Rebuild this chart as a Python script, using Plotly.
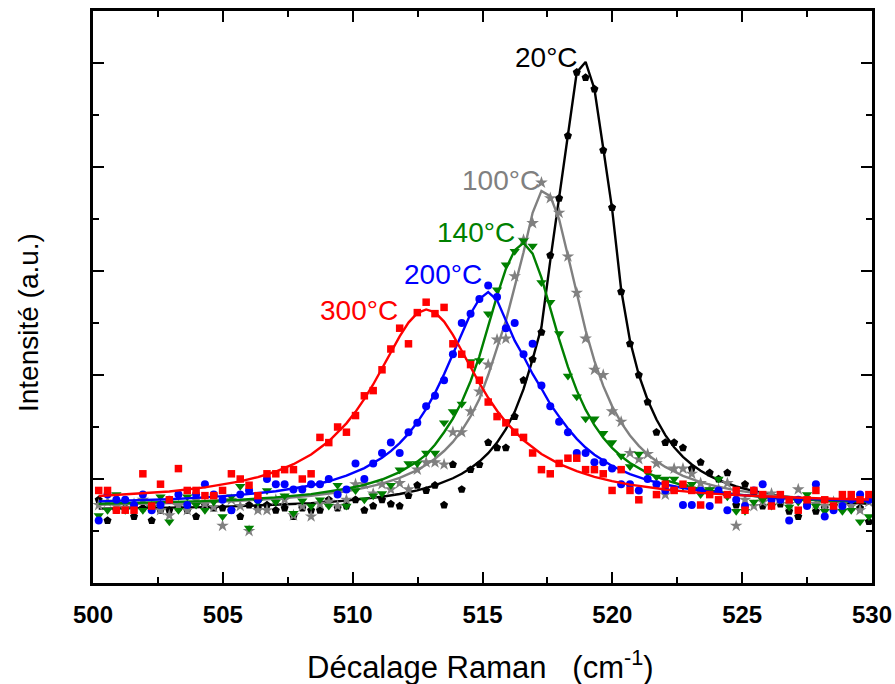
import plotly.graph_objects as go

# ---------------- data ----------------
raman_shift = [500.22, 500.56, 500.90, 501.24, 501.58, 501.92, 502.26, 502.60, 502.94, 503.29,
               503.63, 503.97, 504.31, 504.65, 504.99, 505.33, 505.67, 506.01, 506.35, 506.70,
               507.04, 507.38, 507.72, 508.06, 508.40, 508.74, 509.08, 509.42, 509.76, 510.11,
               510.45, 510.79, 511.13, 511.47, 511.81, 512.15, 512.49, 512.83, 513.17, 513.52,
               513.86, 514.20, 514.54, 514.88, 515.22, 515.56, 515.90, 516.24, 516.58, 516.93,
               517.27, 517.61, 517.95, 518.29, 518.63, 518.97, 519.31, 519.65, 519.99, 520.34,
               520.68, 521.02, 521.36, 521.70, 522.04, 522.38, 522.72, 523.06, 523.40, 523.75,
               524.09, 524.43, 524.77, 525.11, 525.45, 525.79, 526.13, 526.47, 526.81, 527.16,
               527.50, 527.84, 528.18, 528.52, 528.86, 529.20, 529.54, 529.88]

data_20C = [0.80, 0.60, 0.70, 0.72, 0.64, 0.72, 0.60, 0.70, 0.70, 0.72,
            0.70, 0.64, 0.75, 0.72, 0.72, 0.70, 0.64, 0.75, 0.72, 0.75,
            0.70, 0.72, 0.64, 0.72, 0.70, 0.70, 0.80, 0.72, 0.74, 0.80,
            0.70, 0.74, 0.80, 0.76, 0.74, 0.84, 0.94, 0.89, 0.94, 0.75,
            1.14, 0.90, 1.09, 1.14, 1.35, 1.30, 1.30, 1.60, 1.95, 2.15,
            2.41, 3.15, 3.70, 4.30, 4.91, 4.86, 4.75, 4.16, 3.61, 2.80,
            2.30, 2.00, 1.74, 1.45, 1.35, 1.35, 1.30, 1.10, 1.16, 1.06,
            1.00, 1.06, 0.75, 0.95, 0.86, 0.74, 0.80, 0.76, 0.69, 0.64,
            0.75, 0.69, 0.72, 0.74, 0.80, 0.76, 0.72, 0.59]

data_100C = [0.75, 0.78, 0.74, 0.72, 0.76, 0.80, 0.73, 0.70, 0.65, 0.74,
             0.70, 0.80, 0.76, 0.73, 0.55, 0.80, 0.74, 0.50, 0.70, 0.70,
             0.80, 0.80, 0.65, 0.74, 0.64, 0.76, 0.78, 0.74, 0.80, 0.95,
             0.95, 0.86, 0.95, 0.90, 0.96, 0.90, 1.09, 1.16, 1.16, 1.14,
             1.45, 1.45, 1.65, 1.84, 2.10, 2.34, 2.35, 2.95, 3.30, 3.46,
             3.85, 3.70, 3.56, 3.14, 2.79, 2.35, 2.05, 2.00, 1.65, 1.55,
             1.25, 1.19, 1.24, 1.15, 0.85, 1.10, 1.10, 1.05, 0.96, 0.90,
             0.90, 0.96, 0.55, 0.80, 0.74, 0.78, 0.86, 0.80, 0.76, 0.90,
             0.78, 0.76, 0.74, 0.78, 0.76, 0.74, 0.70, 0.78]

data_140C = [0.65, 0.70, 0.85, 0.70, 0.75, 0.70, 0.72, 0.83, 0.59, 0.70,
             0.83, 0.75, 0.70, 0.78, 0.64, 0.83, 0.93, 0.53, 0.78, 0.89,
             0.78, 0.84, 0.67, 0.79, 0.74, 0.80, 0.74, 0.94, 0.74, 0.89,
             0.80, 0.84, 0.86, 0.94, 1.09, 1.15, 1.15, 1.25, 1.25, 1.54,
             1.65, 1.72, 2.13, 2.14, 2.59, 2.82, 3.06, 3.19, 3.29, 3.24,
             2.89, 2.70, 2.40, 1.99, 1.79, 1.58, 1.58, 1.44, 1.35, 1.22,
             1.12, 1.24, 1.06, 1.02, 1.00, 1.00, 0.93, 0.95, 0.85, 0.90,
             1.00, 0.83, 0.69, 0.69, 0.78, 0.80, 0.74, 0.80, 0.73, 0.78,
             0.85, 0.74, 0.69, 0.74, 0.69, 0.70, 0.59, 0.64]

data_200C = [0.60, 0.85, 0.80, 0.80, 0.75, 0.85, 0.70, 0.75, 0.80, 0.85,
             0.75, 0.85, 0.95, 0.85, 0.80, 0.70, 0.85, 0.89, 0.80, 1.00,
             0.95, 0.95, 0.90, 0.90, 0.95, 0.95, 1.00, 0.85, 0.90, 1.15,
             1.00, 1.15, 1.25, 1.35, 1.25, 1.45, 1.54, 1.70, 1.80, 1.95,
             2.20, 2.50, 2.59, 2.73, 2.86, 2.75, 2.45, 2.50, 2.20, 2.30,
             1.90, 1.70, 1.55, 1.45, 1.25, 1.25, 1.16, 1.16, 1.10, 0.95,
             0.95, 0.89, 1.00, 0.95, 0.89, 0.90, 0.75, 0.75, 0.89, 0.74,
             0.89, 0.70, 0.80, 0.74, 0.89, 0.95, 0.80, 0.80, 0.60, 0.80,
             0.74, 0.95, 0.64, 0.70, 0.74, 0.80, 0.85, 0.80]

data_300C = [0.89, 0.89, 0.70, 0.70, 0.70, 1.05, 0.74, 0.95, 0.80, 1.10,
             0.89, 0.89, 0.84, 0.84, 0.89, 1.05, 1.00, 0.94, 0.84, 1.05,
             1.05, 1.09, 1.09, 1.00, 1.05, 1.40, 1.35, 1.50, 1.45, 1.61,
             1.80, 1.85, 2.05, 2.25, 2.45, 2.30, 2.60, 2.70, 2.59, 2.65,
             2.30, 2.20, 2.10, 1.95, 1.74, 1.60, 1.54, 1.45, 1.40, 1.25,
             1.09, 1.05, 1.15, 1.20, 1.20, 1.09, 1.09, 1.05, 0.89, 1.09,
             0.89, 0.80, 1.09, 0.85, 0.95, 0.89, 0.95, 0.89, 0.75, 0.85,
             0.80, 0.85, 0.89, 0.70, 0.89, 0.85, 0.74, 0.85, 0.80, 0.70,
             0.80, 0.89, 0.80, 0.74, 0.85, 0.85, 0.80, 0.85]

# fitted curves
fit_20C_x = [500.22, 501.58, 502.94, 504.31, 505.67, 507.04, 508.40, 509.76, 511.13, 511.81,
             512.49, 513.17, 513.86, 514.20, 514.54, 514.88, 515.22, 515.56, 515.90, 516.24,
             516.58, 516.93, 517.27, 517.61, 517.95, 518.29, 518.63, 518.97, 519.31, 519.65,
             519.99, 520.34, 520.68, 521.02, 521.36, 521.70, 522.04, 522.38, 522.72, 523.06,
             523.40, 523.75, 524.09, 524.77, 525.45, 526.13, 527.50, 528.86, 529.88]
fit_20C_y = [0.715, 0.719, 0.724, 0.730, 0.739, 0.751, 0.767, 0.792, 0.829, 0.856,
             0.891, 0.939, 1.007, 1.050, 1.103, 1.168, 1.248, 1.350, 1.479, 1.646,
             1.864, 2.150, 2.460, 3.100, 3.700, 4.320, 4.910, 5.010, 4.750, 4.180,
             3.600, 2.820, 2.330, 2.000, 1.760, 1.572, 1.422, 1.305, 1.213, 1.140,
             1.080, 1.030, 0.990, 0.928, 0.884, 0.850, 0.804, 0.776, 0.761]

fit_100C_x = [500.22, 501.58, 502.94, 504.31, 505.67, 507.04, 508.40, 509.08, 509.76, 510.45,
              511.13, 511.81, 512.49, 512.83, 513.17, 513.52, 513.86, 514.20, 514.54, 514.88,
              515.22, 515.56, 515.90, 516.24, 516.58, 516.93, 517.27, 517.61, 517.95, 518.29,
              518.63, 518.97, 519.31, 519.65, 519.99, 520.34, 520.68, 521.02, 521.36, 521.70,
              522.04, 522.72, 523.40, 524.09, 524.77, 526.13, 527.50, 528.86, 529.88]
fit_100C_y = [0.753, 0.759, 0.767, 0.777, 0.791, 0.810, 0.839, 0.858, 0.882, 0.914,
              0.955, 1.010, 1.086, 1.136, 1.195, 1.269, 1.357, 1.466, 1.601, 1.770,
              2.000, 2.260, 2.520, 2.850, 3.180, 3.560, 3.770, 3.720, 3.500, 3.146,
              2.774, 2.430, 2.136, 1.895, 1.701, 1.542, 1.418, 1.319, 1.237, 1.171,
              1.116, 1.031, 0.970, 0.925, 0.891, 0.844, 0.814, 0.793, 0.782]

fit_140C_x = [500.22, 501.58, 502.94, 504.31, 505.67, 507.04, 508.40, 509.08, 509.76, 510.45,
              511.13, 511.81, 512.49, 512.83, 513.17, 513.52, 513.86, 514.20, 514.54, 514.88,
              515.22, 515.56, 515.90, 516.24, 516.58, 516.93, 517.27, 517.61, 517.95, 518.29,
              518.63, 518.97, 519.31, 519.65, 519.99, 520.34, 520.68, 521.36, 522.04, 522.72,
              523.40, 524.77, 526.13, 527.50, 528.86, 529.88]
fit_140C_y = [0.762, 0.768, 0.776, 0.787, 0.801, 0.823, 0.855, 0.877, 0.906, 0.944,
              0.995, 1.066, 1.167, 1.234, 1.330, 1.450, 1.580, 1.740, 1.940, 2.180,
              2.470, 2.760, 3.020, 3.200, 3.270, 3.167, 2.936, 2.642, 2.345, 2.078,
              1.852, 1.667, 1.517, 1.397, 1.300, 1.219, 1.154, 1.057, 0.989, 0.940,
              0.903, 0.852, 0.821, 0.801, 0.786, 0.778]

fit_200C_x = [500.22, 501.58, 502.94, 504.31, 505.67, 507.04, 507.72, 508.40, 509.08, 509.76,
              510.45, 511.13, 511.47, 511.81, 512.15, 512.49, 512.83, 513.17, 513.52, 513.86,
              514.20, 514.54, 514.88, 515.22, 515.56, 515.90, 516.24, 516.58, 516.93, 517.27,
              517.61, 517.95, 518.29, 518.63, 518.97, 519.31, 519.99, 520.68, 521.36, 522.04,
              522.72, 523.40, 524.77, 526.13, 527.50, 528.86, 529.88]
fit_200C_y = [0.785, 0.794, 0.806, 0.823, 0.847, 0.882, 0.907, 0.938, 0.978, 1.032,
              1.105, 1.204, 1.268, 1.345, 1.436, 1.545, 1.674, 1.826, 2.007, 2.201,
              2.403, 2.589, 2.731, 2.797, 2.720, 2.520, 2.330, 2.180, 2.010, 1.870,
              1.720, 1.600, 1.485, 1.386, 1.303, 1.233, 1.125, 1.047, 0.990, 0.947,
              0.913, 0.888, 0.850, 0.825, 0.808, 0.795, 0.788]

fit_300C_x = [500.22, 501.58, 502.94, 504.31, 505.67, 506.35, 507.04, 507.72, 508.40, 509.08,
              509.76, 510.11, 510.45, 510.79, 511.13, 511.47, 511.81, 512.15, 512.49, 512.83,
              513.17, 513.52, 513.86, 514.20, 514.54, 514.88, 515.22, 515.56, 515.90, 516.58,
              517.27, 517.95, 518.63, 519.31, 519.99, 520.68, 522.04, 523.40, 524.77, 526.13,
              527.50, 528.86, 529.88]
fit_300C_y = [0.836, 0.855, 0.880, 0.919, 0.977, 1.018, 1.072, 1.142, 1.236, 1.363,
              1.535, 1.646, 1.770, 1.909, 2.061, 2.219, 2.372, 2.504, 2.595, 2.630,
              2.602, 2.514, 2.385, 2.233, 2.075, 1.922, 1.781, 1.656, 1.547, 1.372,
              1.241, 1.146, 1.075, 1.021, 0.979, 0.946, 0.899, 0.867, 0.845, 0.829,
              0.817, 0.808, 0.803]

series_labels = ["20°C", "100°C", "140°C", "200°C", "300°C"]
label_x = [517.45, 515.72, 514.75, 513.48, 510.25]
label_y = [5.05, 3.875, 3.375, 2.97, 2.625]

x_ticks = [500, 505, 510, 515, 520, 525, 530]

# ---------------- styles ----------------
FONT = "Liberation Sans, Arial, Helvetica, sans-serif"
styles = [
    ("#000000", "pentagon", 8.5),
    ("#808080", "star", 9.5),
    ("#008000", "triangle-down", 9),
    ("#0000FF", "circle", 8),
    ("#FF0000", "square", 7.5),
]
marker_sets = [data_20C, data_100C, data_140C, data_200C, data_300C]
fit_sets = [(fit_20C_x, fit_20C_y), (fit_100C_x, fit_100C_y), (fit_140C_x, fit_140C_y),
            (fit_200C_x, fit_200C_y), (fit_300C_x, fit_300C_y)]

for ys in marker_sets:
    assert len(ys) == len(raman_shift)
for fx, fy in fit_sets:
    assert len(fx) == len(fy)

fig = go.Figure()
for (color, symbol, size), ys, (fx, fy), name in zip(styles, marker_sets, fit_sets, series_labels):
    fig.add_trace(go.Scatter(x=raman_shift, y=ys, mode="markers", name=name,
                             marker=dict(symbol=symbol, color=color, size=size, line=dict(width=0)),
                             showlegend=False))
    fig.add_trace(go.Scatter(x=fx, y=fy, mode="lines", name=name + " fit",
                             line=dict(color=color, width=2.4), showlegend=False))

annotations = []
for (color, _, _), txt, lx, ly in zip(styles, series_labels, label_x, label_y):
    annotations.append(dict(x=lx, y=ly, xref="x", yref="y", text=txt, showarrow=False,
                            xanchor="center", yanchor="middle",
                            font=dict(family=FONT, size=28, color=color)))

annotations.append(dict(x=0.498, y=-0.143, xref="paper", yref="paper",
                        text="Décalage Raman   (cm<sup>-1</sup>)", showarrow=False,
                        xanchor="center", yanchor="middle",
                        font=dict(family=FONT, size=31, color="black")))
annotations.append(dict(x=-0.0834, y=0.4545, xref="paper", yref="paper",
                        text="Intensité (a.u.)", showarrow=False, textangle=-90,
                        xanchor="center", yanchor="middle",
                        font=dict(family=FONT, size=28, color="black")))

fig.update_layout(
    width=895, height=684,
    margin=dict(l=93, r=23, t=11, b=101, autoexpand=False),
    plot_bgcolor="white", paper_bgcolor="white",
    showlegend=False,
    annotations=annotations,
    xaxis=dict(range=[500, 530], tickvals=x_ticks, ticktext=[str(v) for v in x_ticks],
               automargin=False,
               ticks="inside", ticklen=11, tickwidth=2, tickcolor="black",
               ticklabelstandoff=8,
               minor=dict(dtick=2.5, tick0=500, ticks="inside", ticklen=6, tickwidth=2, tickcolor="black"),
               showline=True, linewidth=2.5, linecolor="black", mirror="allticks",
               showgrid=False, zeroline=False,
               tickfont=dict(family=FONT, size=24, color="black", weight="bold")),
    yaxis=dict(range=[0, 5.5], tick0=0, dtick=1, showticklabels=False,
               automargin=False,
               ticks="inside", ticklen=11, tickwidth=2, tickcolor="black",
               minor=dict(dtick=0.5, tick0=0, ticks="inside", ticklen=6, tickwidth=2, tickcolor="black"),
               showline=True, linewidth=2.5, linecolor="black", mirror="allticks",
               showgrid=False, zeroline=False),
)

fig.write_html("out.html", config={"displayModeBar": False},
               post_script="document.body.style.margin='0';document.body.style.overflow='hidden';")
